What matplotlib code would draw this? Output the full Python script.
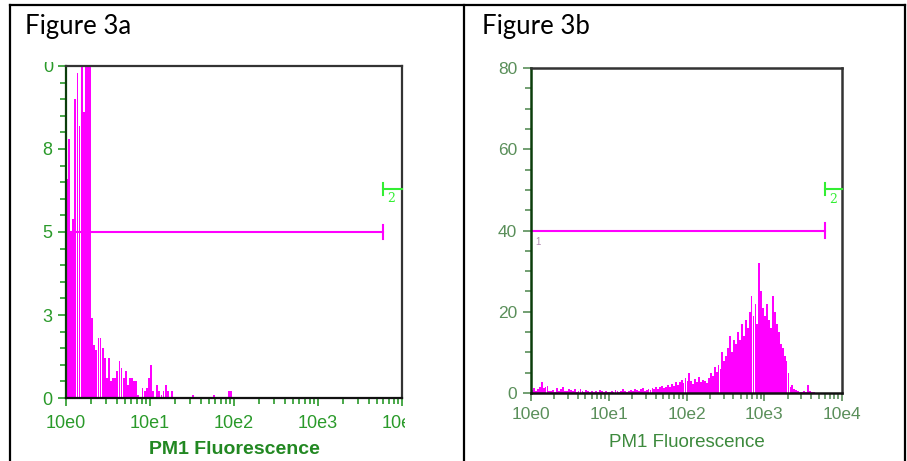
"""Figure 3a / 3b: PM1 fluorescence histograms, laid out in a two-cell table."""

import matplotlib
matplotlib.use("Agg")
import matplotlib.pyplot as plt
from matplotlib.lines import Line2D
from matplotlib.transforms import Bbox

# ── Data ───────────────────────────────────────────────────────────
# channel width in decades (log10) for both histograms
BIN_DEC = 0.025

# Figure 3a: counts per channel, starting at 10e0
counts_a = [
    6.6, 7.8, 5.0, 5.4, 9.0, 9.8, 8.2, 12, 8.6, 12,
    12, 12, 2.4, 1.6, 1.45, 1.8, 1.8, 1.5, 1.2, 0.6,
    1.2, 0.5, 0.6, 0.6, 0.8, 1.1, 0.9, 0.6, 0.8, 0.4,
    0.6, 0.6, 0.5, 0.5, 0.1, 0, 0.3, 0.2, 0.3, 0.6,
    1.0, 0.2, 0, 0.4, 0.2, 0.1, 0.2, 0.4, 0.2, 0,
    0.2, 0, 0, 0, 0, 0, 0, 0, 0, 0,
    0.1, 0, 0, 0, 0, 0, 0, 0, 0, 0,
    0.1, 0, 0, 0, 0, 0, 0, 0.2, 0.2,
]

# Figure 3b: counts per channel, starting at 10e0
counts_b = [
    0.8, 1.2, 0.6, 1.0, 1.4, 2.6, 1.2, 1.5, 1.8, 0.6,
    0.4, 0.8, 0.3, 1.2, 0.5, 0.9, 1.4, 0.6, 0.4, 1.0,
    0.7, 0.5, 1.1, 0.3, 0.6, 0.9, 0.4, 0.2, 0.7, 0.4,
    0.3, 0.6, 0.2, 0.5, 0.3, 0.8, 0.4, 0.2, 0.5, 0.3,
    0.2, 0.6, 0.3, 0.8, 0.4, 0.2, 0.5, 0.9, 0.6, 0.3,
    0.5, 0.8, 0.4, 1.0, 0.7, 0.5, 0.9, 1.2, 0.6, 0.8,
    1.1, 0.7, 1.3, 0.9, 1.5, 1.0, 1.4, 1.8, 1.2, 1.6,
    2.0, 1.5, 2.2, 1.8, 2.6, 2.0, 2.8, 3.2, 2.4, 3.6,
    3.0, 5.0, 3.0, 2.2, 3.4, 2.6, 4.0, 2.8, 3.2, 3.0,
    2.4, 3.6, 5.0, 4.2, 6.5, 5.2, 7.0, 6.0, 10.0, 8.0,
    9.0, 11.0, 14.0, 10.0, 13.0, 12.0, 15.0, 13.0, 17.0, 14.0,
    18.0, 16.0, 20.0, 24.0, 19.0, 22.0, 17.0, 32.0, 25.0, 21.0,
    19.0, 22.0, 18.0, 16.0, 24.0, 20.0, 17.0, 15.0, 12.0, 11.0,
    9.0, 8.0, 5.0, 1.5, 2.0, 1.0, 0.8, 0.5, 0.3, 0.2,
    0.4, 0.3, 2.0, 0.6, 0.2, 0.3,
]

# gate markers (x end in log10 decades, y value)
gate_a = (3.77, 5.0)
marker2_a = (3.77, 6.3)
gate_b = (3.78, 40.0)
marker2_b = (3.78, 50.2)

x_labels = ["10e0", "10e1", "10e2", "10e3", "10e4"]
yticks_a = [0, 2.5, 5, 7.5, 10]
ylabels_a = ["0", "3", "5", "8", ""]
yticks_b = [0, 20, 40, 60, 80]

# ── Style ──────────────────────────────────────────────────────────
MAGENTA = "#ff00ff"
LIME = "#33ee33"
GREEN_A = "#2a9a2a"
GREEN_B = "#5a8f5a"
NARROW = ["Liberation Sans Narrow", "Liberation Sans", "DejaVu Sans"]

W, H = 907, 461
fig = plt.figure(figsize=(W / 100, H / 100), dpi=100)
fig.patch.set_facecolor("white")


def px_axes(x0, y0, x1, y1):
    """Axes from pixel box (top-left origin)."""
    return fig.add_axes([x0 / W, 1 - y1 / H, (x1 - x0) / W, (y1 - y0) / H])


def draw_hist(ax, counts, ymax, fill):
    lefts = [10 ** (i * BIN_DEC) for i in range(len(counts))]
    widths = [10 ** ((i + fill) * BIN_DEC) - l for i, l in enumerate(lefts)]
    ax.bar(lefts, counts, width=widths, align="edge", color=MAGENTA,
           linewidth=0, zorder=2)
    ax.set_xscale("log")
    ax.set_xlim(1, 1e4)
    ax.set_ylim(0, ymax)


def style_axes(ax, color, spine_lw, size, pad_x):
    ax.set_xticks([10 ** k for k in range(5)])
    ax.set_xticklabels(x_labels)
    ax.minorticks_on()
    ax.tick_params(axis="both", which="major", length=6, width=1.2,
                   color=color, labelcolor=color, labelsize=size, pad=4)
    ax.tick_params(axis="x", which="major", pad=pad_x)
    ax.tick_params(axis="both", which="minor", length=4, width=1.2,
                   color=color)
    for lab in ax.get_xticklabels() + ax.get_yticklabels():
        lab.set_family(NARROW)
    ax.spines["left"].set_color("#0b3d0b")
    ax.spines["bottom"].set_color("#111111")
    ax.spines["top"].set_color("#333333")
    ax.spines["right"].set_color("#333333")
    for s in ax.spines.values():
        s.set_linewidth(spine_lw)


def draw_gate(ax, gate, marker, cap_y, cap_m):
    x_end = 10 ** gate[0]
    ax.plot([1, x_end], [gate[1], gate[1]], color=MAGENTA, lw=1.5, zorder=1)
    ax.plot([x_end, x_end], [gate[1] - cap_y, gate[1] + cap_y],
            color=MAGENTA, lw=1.5, zorder=3)
    xm = 10 ** marker[0]
    ax.plot([xm, 1e4], [marker[1], marker[1]], color=LIME, lw=1.5,
            clip_on=False, zorder=3)
    ax.plot([xm, xm], [marker[1] - cap_m, marker[1] + cap_m], color=LIME,
            lw=1.5, zorder=3)
    ax.text(10 ** (marker[0] + 0.1), marker[1] - cap_m * 0.6, "2",
            color=LIME, fontsize=9, ha="center", va="top",
            family="DejaVu Serif", zorder=3)


# ── Figure 3a ──────────────────────────────────────────────────────
ax1 = px_axes(66, 66, 402, 398)
draw_hist(ax1, counts_a, 10, 0.9)
ax1.set_yticks(yticks_a)
ax1.set_yticklabels(ylabels_a)
ax1.set_yticks([v * 0.5 for v in range(21)], minor=True)
style_axes(ax1, GREEN_A, 1.6, 13, 6)
draw_gate(ax1, gate_a, marker2_a, 0.22, 0.18)
ax1.set_xlabel("PM1 Fluorescence", color="#228822", fontsize=14,
               fontweight="bold", family=NARROW, labelpad=7)

# ── Figure 3b ──────────────────────────────────────────────────────
ax2 = px_axes(531, 68, 842, 393)
draw_hist(ax2, counts_b, 80, 0.95)
ax2.set_yticks(yticks_b)
ax2.set_yticks(list(range(0, 81, 4)), minor=True)
style_axes(ax2, GREEN_B, 1.8, 12.5, 4)
draw_gate(ax2, gate_b, marker2_b, 1.8, 1.5)
ax2.text(1.12, gate_b[1] - 1.5, "1", color="#b08ab0", fontsize=7,
         va="top", ha="left", family=NARROW)
ax2.set_xlabel("PM1 Fluorescence", color="#3d8a3d", fontsize=13.5,
               family=NARROW, labelpad=9)

fig.canvas.draw()

# clipped labels, as in the scanned originals
top_a = ax1.text(53, H - 67, "0", transform=None,
                 color=GREEN_A, fontsize=13, ha="right", va="center",
                 family=NARROW)
top_a.set_clip_box(Bbox.from_extents(0, 0, W, H - 62))
top_a.set_clip_on(True)
last = ax1.get_xticklabels()[-1]
last.set_clip_box(Bbox.from_extents(0, 0, 405, H))
last.set_clip_on(True)

# ── Table frame and cell headings ──────────────────────────────────
frame = dict(color="black", lw=1.6, transform=fig.transFigure)
fig.add_artist(Line2D([10 / W, 905 / W], [1 - 5 / H, 1 - 5 / H], **frame))
fig.add_artist(Line2D([10 / W, 10 / W], [0, 1 - 5 / H], **frame))
fig.add_artist(Line2D([464 / W, 464 / W], [0, 1 - 5 / H], **frame))
fig.add_artist(Line2D([905 / W, 905 / W], [0, 1 - 5 / H], **frame))

fig.text(25 / W, 1 - 34 / H, "Figure 3a", fontsize=18.5, family="Lato",
         va="baseline", ha="left")
fig.text(482 / W, 1 - 34 / H, "Figure 3b", fontsize=18.5, family="Lato",
         va="baseline", ha="left")

fig.savefig("out.png", dpi=100, facecolor="white")
